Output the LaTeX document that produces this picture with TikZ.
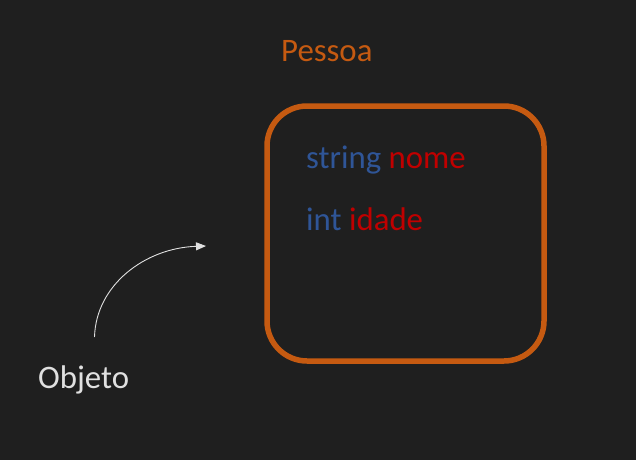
\documentclass[tikz,border=0pt]{standalone}
\usepackage{fontspec}
\setmainfont{Carlito}
\usetikzlibrary{arrows.meta}
\definecolor{fundo}{HTML}{1F1F1F}
\definecolor{laranja}{HTML}{C55A11}
\definecolor{azul}{HTML}{2F5597}
\definecolor{vermelho}{HTML}{C00000}
\definecolor{cinza}{HTML}{E0E0E0}

\begin{document}
\begin{tikzpicture}[x=1pt, y=-1pt,
    classe/.style={draw=laranja, line width=5.5pt, rounded corners=40pt, minimum width=277pt, minimum height=255pt},
    texto/.style={inner sep=0pt, anchor=base west, font=\fontsize{32.8}{38}\selectfont},
    seta/.style={cinza, line width=0.9pt, -{Triangle[length=10pt, width=8pt]}}
]
\useasboundingbox[fill=fundo] (0,0) rectangle (636,460);

\node[classe] (pessoa) at (405.5,233.5) {};
\node[texto, text=laranja] (titulo) at (281,61) {Pessoa};
\node[texto] (nome) at (306,168) {\textcolor{azul}{string} \textcolor{vermelho}{nome}};
\node[texto] (idade) at (306,230) {\textcolor{azul}{int} \textcolor{vermelho}{idade}};
\node[texto, text=cinza] (objeto) at (38,388) {Objeto};

\coordinate (ini) at (94.5,337);
\coordinate (fim) at (206,246);
\draw[seta] (ini) .. controls (96,285) and (145,248) .. (fim);

\end{tikzpicture}
\end{document}
